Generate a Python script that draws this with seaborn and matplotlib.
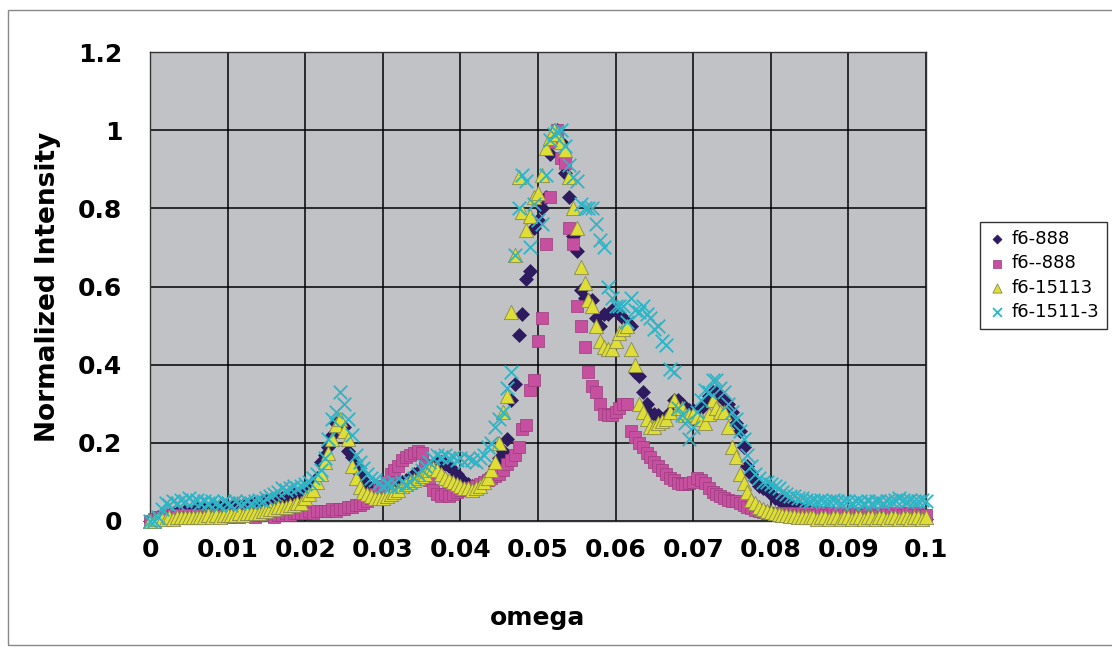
import numpy as np
import pandas as pd
import seaborn as sns
import matplotlib.pyplot as plt
from matplotlib.patches import Rectangle

# omega grid, step 0.0005 (201 points)
omega = np.round(np.arange(201) * 0.0005, 4)

f6_888 = [
    0.00, 0.005, 0.01, 0.01, 0.015, 0.015, 0.02, 0.02, 0.02, 0.025,
    0.025, 0.025, 0.03, 0.03, 0.03, 0.03, 0.035, 0.03, 0.035, 0.035,
    0.035, 0.035, 0.04, 0.035, 0.04, 0.04, 0.04, 0.045, 0.045, 0.05,
    0.05, 0.055, 0.055, 0.06, 0.06, 0.065, 0.065, 0.07, 0.07, 0.07,
    0.075, 0.08, 0.09, 0.11, 0.15, 0.17, 0.19, 0.22, 0.25, 0.245,
    0.24, 0.18, 0.165, 0.14, 0.12, 0.105, 0.09, 0.085, 0.08, 0.075,
    0.08, 0.085, 0.09, 0.095, 0.10, 0.10, 0.105, 0.11, 0.12, 0.125,
    0.13, 0.135, 0.14, 0.145, 0.15, 0.15, 0.145, 0.14, 0.13, 0.12,
    0.11, 0.10, 0.095, 0.09, 0.09, 0.095, 0.10, 0.11, 0.12, 0.14,
    0.16, 0.18, 0.21, 0.31, 0.35, 0.475, 0.53, 0.62, 0.64, 0.75,
    0.77, 0.80, 0.83, 0.94, 0.97, 1.0, 0.97, 0.89, 0.83, 0.73,
    0.69, 0.59, 0.57, 0.565, 0.565, 0.52, 0.50, 0.53, 0.53, 0.54,
    0.54, 0.53, 0.52, 0.51, 0.50, 0.38, 0.37, 0.33, 0.30, 0.275,
    0.275, 0.27, 0.26, 0.265, 0.28, 0.31, 0.31, 0.30, 0.29, 0.285,
    0.285, 0.28, 0.29, 0.30, 0.32, 0.33, 0.33, 0.32, 0.31, 0.30,
    0.28, 0.25, 0.23, 0.19, 0.14, 0.12, 0.105, 0.09, 0.085, 0.08,
    0.07, 0.06, 0.054, 0.05, 0.045, 0.04, 0.036, 0.033, 0.03, 0.028,
    0.025, 0.023, 0.02, 0.02, 0.02, 0.015, 0.02, 0.015, 0.015, 0.015,
    0.015, 0.015, 0.01, 0.015, 0.01, 0.015, 0.01, 0.01, 0.015, 0.01,
    0.01, 0.015, 0.01, 0.01, 0.01, 0.015, 0.01, 0.01, 0.005, 0.01,
    0.005,
]

f6_m888 = [
    0.00, 0.005, 0.01, 0.01, 0.015, 0.01, 0.015, 0.01, 0.015, 0.01,
    0.015, 0.01, 0.015, 0.015, 0.01, 0.015, 0.015, 0.01, 0.015, 0.015,
    0.01, 0.015, 0.015, 0.01, 0.015, 0.015, 0.015, 0.01, 0.015, 0.015,
    0.015, 0.015, 0.01, 0.015, 0.015, 0.02, 0.015, 0.02, 0.02, 0.02,
    0.02, 0.025, 0.02, 0.025, 0.025, 0.025, 0.025, 0.03, 0.025, 0.03,
    0.03, 0.035, 0.035, 0.04, 0.04, 0.045, 0.05, 0.06, 0.07, 0.08,
    0.09, 0.10, 0.12, 0.13, 0.14, 0.155, 0.165, 0.17, 0.175, 0.18,
    0.175, 0.14, 0.105, 0.08, 0.07, 0.065, 0.07, 0.065, 0.07, 0.075,
    0.08, 0.08, 0.085, 0.085, 0.09, 0.095, 0.10, 0.105, 0.11, 0.115,
    0.12, 0.13, 0.145, 0.155, 0.17, 0.19, 0.235, 0.245, 0.335, 0.36,
    0.46, 0.52, 0.71, 0.83, 0.97, 1.0, 0.93, 0.915, 0.75, 0.71,
    0.55, 0.50, 0.445, 0.38, 0.345, 0.33, 0.30, 0.275, 0.27, 0.27,
    0.28, 0.29, 0.30, 0.30, 0.23, 0.215, 0.20, 0.19, 0.175, 0.165,
    0.15, 0.14, 0.13, 0.12, 0.11, 0.105, 0.097, 0.095, 0.095, 0.097,
    0.10, 0.11, 0.105, 0.097, 0.085, 0.075, 0.07, 0.065, 0.06, 0.055,
    0.05, 0.05, 0.045, 0.04, 0.036, 0.032, 0.028, 0.025, 0.022, 0.02,
    0.02, 0.02, 0.02, 0.02, 0.02, 0.015, 0.02, 0.015, 0.02, 0.015,
    0.02, 0.015, 0.015, 0.02, 0.015, 0.015, 0.02, 0.015, 0.015, 0.02,
    0.015, 0.015, 0.02, 0.015, 0.015, 0.02, 0.015, 0.02, 0.015, 0.015,
    0.02, 0.015, 0.015, 0.02, 0.015, 0.02, 0.02, 0.015, 0.02, 0.015,
    0.015,
]

f6_15113 = [
    0.00, 0.00, 0.005, 0.005, 0.005, 0.01, 0.005, 0.01, 0.01, 0.01,
    0.01, 0.01, 0.01, 0.01, 0.01, 0.015, 0.01, 0.015, 0.01, 0.015,
    0.015, 0.015, 0.015, 0.02, 0.015, 0.02, 0.02, 0.02, 0.02, 0.025,
    0.025, 0.03, 0.03, 0.035, 0.035, 0.035, 0.04, 0.04, 0.045, 0.045,
    0.06, 0.07, 0.08, 0.10, 0.12, 0.15, 0.175, 0.21, 0.245, 0.26,
    0.23, 0.21, 0.14, 0.11, 0.087, 0.075, 0.07, 0.065, 0.06, 0.06,
    0.06, 0.065, 0.07, 0.075, 0.08, 0.09, 0.095, 0.10, 0.105, 0.11,
    0.115, 0.12, 0.13, 0.135, 0.13, 0.12, 0.11, 0.105, 0.10, 0.095,
    0.09, 0.085, 0.085, 0.08, 0.085, 0.09, 0.10, 0.11, 0.13, 0.15,
    0.20, 0.28, 0.32, 0.535, 0.68, 0.88, 0.79, 0.745, 0.78, 0.83,
    0.84, 0.885, 0.955, 0.98, 1.0, 0.99, 0.97, 0.95, 0.88, 0.80,
    0.75, 0.65, 0.61, 0.565, 0.55, 0.50, 0.46, 0.445, 0.44, 0.44,
    0.46, 0.48, 0.49, 0.50, 0.44, 0.40, 0.30, 0.28, 0.26, 0.24,
    0.24, 0.25, 0.255, 0.26, 0.28, 0.31, 0.29, 0.29, 0.27, 0.27,
    0.275, 0.265, 0.26, 0.25, 0.275, 0.31, 0.29, 0.28, 0.28, 0.24,
    0.19, 0.165, 0.12, 0.097, 0.075, 0.054, 0.045, 0.036, 0.03, 0.025,
    0.023, 0.02, 0.018, 0.015, 0.015, 0.012, 0.012, 0.01, 0.01, 0.01,
    0.01, 0.01, 0.005, 0.01, 0.01, 0.005, 0.01, 0.01, 0.005, 0.01,
    0.01, 0.005, 0.01, 0.01, 0.005, 0.01, 0.01, 0.005, 0.01, 0.01,
    0.005, 0.01, 0.01, 0.005, 0.01, 0.01, 0.005, 0.01, 0.01, 0.005,
    0.01,
]

f6_1511_3 = [
    0.00, 0.00, 0.01, 0.03, 0.045, 0.04, 0.05, 0.045, 0.055, 0.05,
    0.06, 0.05, 0.055, 0.045, 0.05, 0.045, 0.05, 0.045, 0.04, 0.05,
    0.045, 0.04, 0.05, 0.045, 0.045, 0.05, 0.045, 0.05, 0.055, 0.05,
    0.06, 0.065, 0.07, 0.075, 0.085, 0.08, 0.085, 0.09, 0.085, 0.09,
    0.095, 0.10, 0.11, 0.12, 0.13, 0.16, 0.21, 0.26, 0.28, 0.33,
    0.30, 0.26, 0.22, 0.17, 0.15, 0.135, 0.12, 0.11, 0.105, 0.097,
    0.09, 0.095, 0.09, 0.10, 0.09, 0.10, 0.095, 0.10, 0.11, 0.12,
    0.13, 0.14, 0.15, 0.16, 0.17, 0.165, 0.17, 0.16, 0.165, 0.155,
    0.16, 0.15, 0.16, 0.155, 0.15, 0.16, 0.17, 0.19, 0.20, 0.24,
    0.26, 0.28, 0.34, 0.38, 0.68, 0.80, 0.885, 0.87, 0.70, 0.81,
    0.77, 0.76, 0.885, 0.975, 0.99, 0.995, 1.0, 0.96, 0.91, 0.88,
    0.87, 0.81, 0.80, 0.80, 0.80, 0.76, 0.72, 0.70, 0.60, 0.57,
    0.55, 0.55, 0.55, 0.51, 0.57, 0.54, 0.535, 0.55, 0.53, 0.52,
    0.49, 0.50, 0.46, 0.45, 0.39, 0.38, 0.29, 0.27, 0.25, 0.21,
    0.24, 0.28, 0.31, 0.335, 0.33, 0.36, 0.36, 0.34, 0.33, 0.30,
    0.28, 0.26, 0.23, 0.21, 0.17, 0.14, 0.12, 0.11, 0.10, 0.10,
    0.095, 0.09, 0.085, 0.075, 0.07, 0.065, 0.065, 0.06, 0.06, 0.055,
    0.05, 0.055, 0.05, 0.055, 0.05, 0.05, 0.055, 0.05, 0.045, 0.05,
    0.05, 0.045, 0.05, 0.05, 0.045, 0.05, 0.045, 0.05, 0.05, 0.045,
    0.05, 0.05, 0.055, 0.06, 0.055, 0.05, 0.055, 0.05, 0.05, 0.055,
    0.05,
]

series_names = ['f6-888', 'f6--888', 'f6-15113', 'f6-1511-3']
x_ticks = [0, 0.01, 0.02, 0.03, 0.04, 0.05, 0.06, 0.07, 0.08, 0.09, 0.1]
x_tick_labels = ['0', '0.01', '0.02', '0.03', '0.04', '0.05', '0.06', '0.07', '0.08', '0.09', '0.1']
y_ticks = [0, 0.2, 0.4, 0.6, 0.8, 1.0, 1.2]
y_tick_labels = ['0', '0.2', '0.4', '0.6', '0.8', '1', '1.2']

df = pd.DataFrame({
    'omega': np.tile(omega, 4),
    'intensity': f6_888 + f6_m888 + f6_15113 + f6_1511_3,
    'series': np.repeat(series_names, len(omega)),
})

sns.set_style('white')
plt.rcParams['font.family'] = ['DejaVu Sans']
plt.rcParams['text.color'] = 'black'
plt.rcParams['axes.labelcolor'] = 'black'
plt.rcParams['xtick.color'] = 'black'
plt.rcParams['ytick.color'] = 'black'

fig = plt.figure(figsize=(11.12, 6.51), dpi=100)
ax = fig.add_axes([0.1349, 0.1997, 0.6978, 0.7204])
ax.set_facecolor('#C0C2C6')

styles = {
    'f6-888': dict(marker='D', s=50, color='#2E1A5E', edgecolor='#2E1A5E', linewidth=0.5),
    'f6--888': dict(marker='s', s=66, color='#C64FA0', edgecolor='#9A3C7E', linewidth=0.5),
    'f6-15113': dict(marker='^', s=105, color='#DEDE36', edgecolor='#8A8A50', linewidth=0.6),
    'f6-1511-3': dict(marker='x', s=95, color='#2FB4C6', linewidth=1.3),
}

for name in series_names:
    sub = df[df['series'] == name]
    sns.scatterplot(data=sub, x='omega', y='intensity', ax=ax, label=name,
                    clip_on=False, zorder=3, **styles[name])

ax.set_xlim(0, 0.1)
ax.set_ylim(0, 1.2)
ax.set_xticks(x_ticks)
ax.set_xticklabels(x_tick_labels)
ax.set_yticks(y_ticks)
ax.set_yticklabels(y_tick_labels)
ax.tick_params(axis='x', length=0, pad=12, labelsize=18)
ax.tick_params(axis='y', length=0, pad=20, labelsize=18)
for lbl in ax.get_xticklabels() + ax.get_yticklabels():
    lbl.set_fontweight('bold')

ax.grid(True, color='black', linewidth=1.1)
ax.set_axisbelow(True)
for sp in ax.spines.values():
    sp.set_color('#333333')
    sp.set_linewidth(1.0)

ax.set_xlabel('omega', fontsize=18, fontweight='bold', labelpad=32)
ax.set_ylabel('Normalized Intensity', fontsize=19, fontweight='bold', labelpad=12)

ax.get_legend().remove()
handles, labels = ax.get_legend_handles_labels()
leg = fig.legend(handles, labels, loc='upper left', bbox_to_anchor=(0.881, 0.659),
                 fontsize=13, frameon=True, fancybox=False, markerscale=0.65,
                 handletextpad=0.3, borderpad=0.45, labelspacing=0.35,
                 handlelength=1.0, borderaxespad=0)
leg.get_frame().set_edgecolor('black')
leg.get_frame().set_linewidth(1.0)

# thin outer chart border
fig.patches.append(Rectangle((0.0072, 0.009), 1.2, 0.9755, transform=fig.transFigure,
                             fill=False, edgecolor='#888888', linewidth=1.0))

fig.savefig('out.png', dpi=100)
